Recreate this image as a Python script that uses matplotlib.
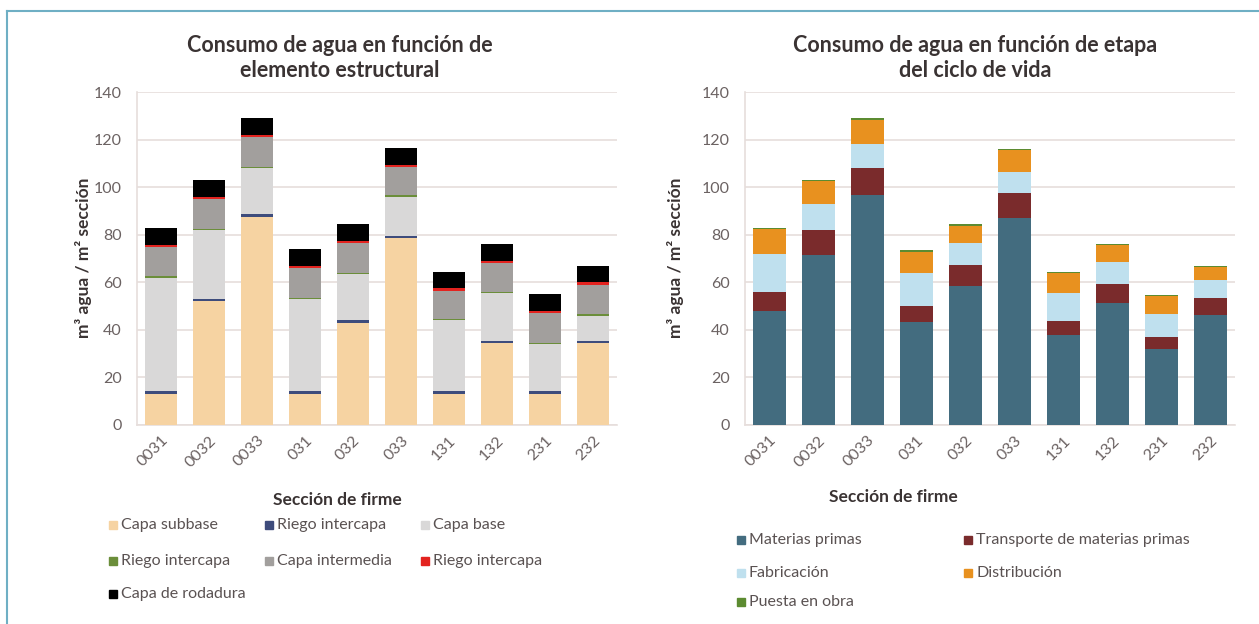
import matplotlib.pyplot as plt
from matplotlib.patches import Rectangle
from matplotlib.lines import Line2D

secciones = ["0031", "0032", "0033", "031", "032", "033", "131", "132", "231", "232"]

# elemento estructural (m3 agua / m2 seccion)
capa_subbase = [13, 52, 87.5, 13, 43, 78.5, 13, 34.5, 13, 34.5]
riego_1 = [1.5, 1, 1, 1.5, 1, 1, 1.5, 1, 1.5, 1]
capa_base = [47.5, 29, 19.5, 38.5, 19.5, 16.5, 29.5, 20, 19.5, 10.5]
riego_2 = [0.5, 0.5, 0.5, 0.5, 0.5, 0.5, 0.5, 0.5, 0.5, 0.5]
capa_intermedia = [12.3, 12.5, 12.5, 12.3, 12.5, 12, 12, 12, 12.5, 12.5]
riego_3 = [1, 1, 1, 1, 1, 1, 1, 1, 1, 1]
capa_rodadura = [7.2, 7, 7, 7, 7, 7, 7, 7, 7, 7]

# etapa del ciclo de vida
materias_primas = [48, 71.5, 96.5, 43.5, 58.5, 87, 37.8, 51.3, 32, 46.2]
transporte = [8, 10.3, 11.5, 6.5, 8.8, 10.6, 6, 8, 5.2, 7.4]
fabricacion = [16, 11.3, 10, 13.7, 9.4, 8.7, 11.8, 9.4, 9.6, 7.3]
distribucion = [10.5, 9.4, 10.4, 9.2, 7.1, 9.3, 8.2, 6.8, 7.3, 5.4]
puesta_en_obra = [0.5, 0.5, 0.5, 0.5, 0.5, 0.5, 0.5, 0.5, 0.5, 0.5]

left_series = [
    ("Capa subbase", capa_subbase, "#F6D3A2"),
    ("Riego intercapa", riego_1, "#3E4C7C"),
    ("Capa base", capa_base, "#D9D8D8"),
    ("Riego intercapa", riego_2, "#6B8E3A"),
    ("Capa intermedia", capa_intermedia, "#A29F9D"),
    ("Riego intercapa", riego_3, "#E3231F"),
    ("Capa de rodadura", capa_rodadura, "#000000"),
]
right_series = [
    ("Materias primas", materias_primas, "#436C7F"),
    ("Transporte de materias primas", transporte, "#7A2B2C"),
    ("Fabricación", fabricacion, "#BFE0EE"),
    ("Distribución", distribucion, "#E8911F"),
    ("Puesta en obra", puesta_en_obra, "#5C8B31"),
]

plt.rcParams["font.family"] = ["Lato", "DejaVu Sans"]
TXT = "#3A3333"
TICK = "#6B6262"

W, H = 1259, 624
fig = plt.figure(figsize=(W / 100, H / 100), dpi=100)


def px(x, y):
    return x / W, 1 - y / H


def draw_chart(rect, series, width):
    ax = fig.add_axes(rect)
    x = range(len(secciones))
    bottom = [0] * len(secciones)
    for name, vals, col in series:
        ax.bar(x, vals, width, bottom=bottom, color=col, edgecolor="none", zorder=3)
        bottom = [b + v for b, v in zip(bottom, vals)]
    ax.set_ylim(0, 140)
    ax.set_yticks(range(0, 141, 20))
    ax.set_xlim(-0.5, len(secciones) - 0.5)
    ax.set_xticks(list(x))
    ax.set_xticklabels(secciones, rotation=45, ha="right", rotation_mode="anchor",
                       fontsize=11.5, color=TICK)
    ax.tick_params(axis="y", labelsize=11.5, labelcolor=TICK, length=0, pad=11)
    ax.tick_params(axis="x", length=0, pad=6)
    ax.grid(axis="y", color="#E6DEDC", linewidth=1.2, zorder=0)
    for s in ["top", "right"]:
        ax.spines[s].set_visible(False)
    for s in ["left", "bottom"]:
        ax.spines[s].set_color("#E6DEDC")
        ax.spines[s].set_linewidth(1.2)
    return ax


ax1 = draw_chart([137 / W, 1 - 425 / H, 480 / W, 333 / H], left_series, 0.65)
ax2 = draw_chart([745 / W, 1 - 425 / H, 490 / W, 333 / H], right_series, 0.67)

# titles
fig.text(*px(340, 58), "Consumo de agua en función de\nelemento estructural",
         ha="center", va="center", fontsize=15.5, fontweight="bold", color=TXT,
         linespacing=1.25)
fig.text(*px(975, 58), "Consumo de agua en función de etapa\ndel ciclo de vida",
         ha="center", va="center", fontsize=15.5, fontweight="bold", color=TXT,
         linespacing=1.25)

# axis labels
for xl in (84, 676):
    fig.text(*px(xl, 258), "m³ agua / m² sección", rotation=90,
             ha="center", va="center", fontsize=12.5, fontweight="bold", color=TXT)
fig.text(*px(337, 500), "Sección de firme", ha="center", va="center",
         fontsize=12.5, fontweight="bold", color=TXT)
fig.text(*px(893, 497), "Sección de firme", ha="center", va="center",
         fontsize=12.5, fontweight="bold", color=TXT)


def legend_item(x, y, name, col):
    fig.patches.append(Rectangle(px(x - 4, y + 4), 8 / W, 8 / H, color=col,
                                 transform=fig.transFigure, figure=fig))
    fig.text(*px(x + 8, y), name, ha="left", va="center", fontsize=11.5, color="#5A5252")


left_pos = [(113, 525), (269, 525), (425, 525), (113, 561), (269, 561), (425, 561), (113, 594)]
for (name, vals, col), (lx, ly) in zip(left_series, left_pos):
    legend_item(lx, ly, name, col)

right_pos = [(741, 540), (968, 540), (741, 573), (968, 573), (741, 602)]
for (name, vals, col), (lx, ly) in zip(right_series, right_pos):
    legend_item(lx, ly, name, col)

# frame lines
fig.add_artist(Line2D([7 / W, 1], [1 - 11 / H, 1 - 11 / H], color="#6FAFC4",
                      linewidth=1.5, transform=fig.transFigure))
fig.add_artist(Line2D([7 / W, 7 / W], [0, 1 - 11 / H], color="#6FAFC4",
                      linewidth=1.5, transform=fig.transFigure))

fig.savefig("out.png", dpi=100)
